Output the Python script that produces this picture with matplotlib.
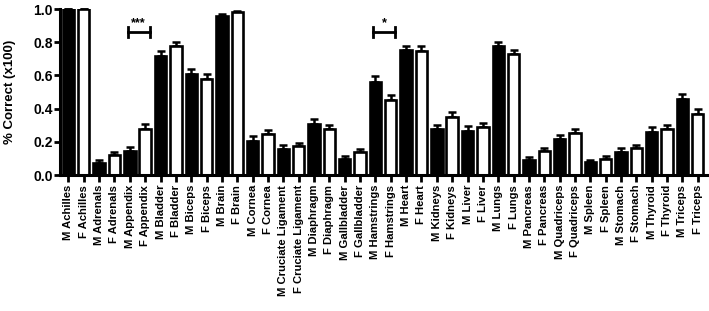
import matplotlib
matplotlib.use("Agg")
import matplotlib.pyplot as plt
import numpy as np

plt.rcParams['font.family'] = ['Liberation Sans', 'DejaVu Sans']
plt.rcParams['font.weight'] = 'bold'

organs = ["Achilles", "Adrenals", "Appendix", "Bladder", "Biceps", "Brain", "Cornea",
          "Cruciate Ligament", "Diaphragm", "Gallbladder", "Hamstrings", "Heart", "Kidneys",
          "Liver", "Lungs", "Pancreas", "Quadriceps", "Spleen", "Stomach", "Thyroid", "Triceps"]
male_vals = [1.0, 0.074, 0.147, 0.72, 0.61, 0.955, 0.207, 0.155, 0.308, 0.097,
             0.561, 0.755, 0.276, 0.268, 0.777, 0.093, 0.22, 0.078, 0.141, 0.262, 0.459]
male_err = [0.0, 0.016, 0.023, 0.03, 0.03, 0.012, 0.028, 0.025, 0.032, 0.02,
            0.033, 0.025, 0.028, 0.03, 0.026, 0.017, 0.023, 0.015, 0.022, 0.028, 0.032]
female_vals = [1.0, 0.12, 0.28, 0.78, 0.58, 0.98, 0.245, 0.175, 0.278, 0.137,
               0.455, 0.75, 0.352, 0.29, 0.728, 0.145, 0.256, 0.097, 0.161, 0.278, 0.37]
female_err = [0.0, 0.017, 0.025, 0.022, 0.03, 0.008, 0.025, 0.02, 0.026, 0.02,
              0.028, 0.025, 0.028, 0.024, 0.024, 0.02, 0.024, 0.016, 0.022, 0.024, 0.028]
sig_organs = ["Appendix", "Hamstrings"]
sig_marks = ["***", "*"]

labels, vals, errs, colors = [], [], [], []
for i, o in enumerate(organs):
    labels += ["M " + o, "F " + o]
    vals += [male_vals[i], female_vals[i]]
    errs += [male_err[i], female_err[i]]
    colors += ["black", "white"]

n = len(labels)
x = np.arange(n)

fig = plt.figure(figsize=(7.09, 3.11), dpi=100)
ax = fig.add_axes([0.0846, 0.437, 0.913, 0.534])

ax.bar(x, vals, width=0.74, color=colors, edgecolor="black", linewidth=1.9, zorder=2)
ax.errorbar(x, vals, yerr=[np.zeros(n), errs], fmt="none", ecolor="black",
            elinewidth=1.8, capsize=3, capthick=1.8, zorder=1, clip_on=False)

for o, mark in zip(sig_organs, sig_marks):
    i = organs.index(o)
    x1, x2 = 2 * i - 0.15, 2 * i + 1 + 0.3
    yb = 0.86
    ax.plot([x1, x2], [yb, yb], color="black", lw=2, clip_on=False)
    ax.plot([x1, x1], [yb - 0.03, yb + 0.03], color="black", lw=2, clip_on=False)
    ax.plot([x2, x2], [yb - 0.03, yb + 0.03], color="black", lw=2, clip_on=False)
    ax.text((x1 + x2) / 2, yb + 0.02, mark, ha="center", va="bottom",
            fontsize=9, fontweight="bold")

ax.set_xlim(-0.55, n - 1 + 0.62)
ax.set_ylim(0, 1.0)
ax.set_yticks([0.0, 0.2, 0.4, 0.6, 0.8, 1.0])
ax.set_yticklabels(["0.0", "0.2", "0.4", "0.6", "0.8", "1.0"], fontsize=10, fontweight="bold")
ax.set_xticks(x)
ax.set_xticklabels(labels, rotation=90, fontsize=8.1, fontweight="bold")
ax.set_ylabel("% Correct (x100)", fontsize=9.5, fontweight="bold")
ax.yaxis.set_label_coords(-0.068, 0.5)

for s in ["top", "right"]:
    ax.spines[s].set_visible(False)
for s in ["left", "bottom"]:
    ax.spines[s].set_linewidth(2.2)
ax.tick_params(axis="y", width=2, length=4, direction="out", pad=1)
ax.tick_params(axis="x", width=2, length=5, direction="out", pad=2)

fig.savefig("out.png", dpi=100)
